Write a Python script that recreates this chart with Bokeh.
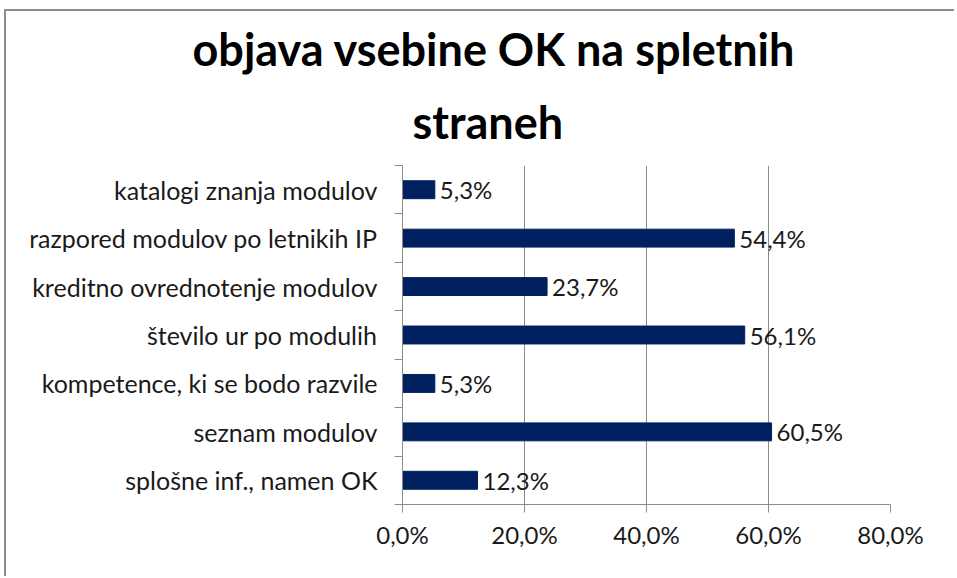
from bokeh.plotting import figure
from bokeh.models import FixedTicker, Title, ColumnDataSource, LabelSet
from bokeh.core.properties import value
from bokeh.embed import file_html
from bokeh.resources import INLINE

title_lines = ["objava vsebine OK na spletnih", "straneh"]
categories = [
    "katalogi znanja modulov",
    "razpored modulov po letnikih IP",
    "kreditno ovrednotenje modulov",
    "število ur po modulih",
    "kompetence, ki se bodo razvile",
    "seznam modulov",
    "splošne inf., namen OK",
]
values = [5.3, 54.4, 23.7, 56.1, 5.3, 60.5, 12.3]
x_ticks = [0, 20, 40, 60, 80]
x_tick_labels = ["0,0%", "20,0%", "40,0%", "60,0%", "80,0%"]

FONT = "Lato"
FS = "24px"
n = len(categories)
ypos = [n - i for i in range(n)]  # top category first
val_text = [f"{v:.1f}".replace(".", ",") + "%" for v in values]

src = ColumnDataSource(dict(y=ypos, v=values, t=val_text, c=categories))

p = figure(width=950, height=567, output_backend="svg", toolbar_location=None,
           x_range=(0, 80), y_range=(0.5, n + 0.5),
           min_border_left=396, min_border_right=66, min_border_top=154, min_border_bottom=74)
# outer chart border (left and top edges, as in the reference)
p.styles = {"margin-left": "6px", "margin-top": "11px",
            "box-shadow": "-2px -2px 0px 0px #8c8c8c"}
p.outline_line_color = None
p.background_fill_color = "white"
p.border_fill_color = "white"

p.hbar(y="y", right="v", left=0, height=0.37, source=src, color="#002060")

labels = LabelSet(x="v", y="y", text="t", source=src, x_offset=5, text_baseline="middle",
                  text_font=value(FONT), text_font_size=value(FS), text_color="#1a1a1a")
p.add_layout(labels)

# x axis
p.xaxis.ticker = FixedTicker(ticks=x_ticks)
p.xaxis.major_label_overrides = {t: l for t, l in zip(x_ticks, x_tick_labels)}
p.xaxis.major_label_text_font = FONT
p.xaxis.major_label_text_font_size = FS
p.xaxis.major_label_text_color = "#1a1a1a"
p.xaxis.major_label_standoff = 7
p.xaxis.axis_line_color = "#8c8c8c"
p.xaxis.major_tick_line_color = "#8c8c8c"
p.xaxis.major_tick_out = 8
p.xaxis.major_tick_in = 0
p.xaxis.minor_tick_line_color = None

# y axis
p.yaxis.ticker = FixedTicker(ticks=ypos, minor_ticks=[k + 0.5 for k in range(n + 1)])
p.yaxis.major_label_overrides = {y: c for y, c in zip(ypos, categories)}
p.yaxis.major_label_text_font = FONT
p.yaxis.major_label_text_font_size = "25px"
p.yaxis.major_label_text_color = "#1a1a1a"
p.yaxis.major_label_standoff = 17
p.yaxis.axis_line_color = "#8c8c8c"
p.yaxis.major_tick_line_color = None
p.yaxis.minor_tick_line_color = "#8c8c8c"
p.yaxis.minor_tick_out = 8
p.yaxis.minor_tick_in = 0

p.xgrid.ticker = FixedTicker(ticks=x_ticks)
p.xgrid.grid_line_color = "#8c8c8c"
p.ygrid.grid_line_color = None

# title: two lines, positioned to be centred on the whole chart area
t2 = Title(text=title_lines[1], align="left", offset=10, standoff=34,
           text_font=FONT, text_font_style="bold", text_font_size="45px", text_color="black")
t1 = Title(text=title_lines[0], align="left", offset=-210, standoff=0,
           text_font=FONT, text_font_style="bold", text_font_size="45px", text_color="black")
p.add_layout(t2, "above")
p.add_layout(t1, "above")

open("out.html", "w").write(file_html(p, INLINE))
